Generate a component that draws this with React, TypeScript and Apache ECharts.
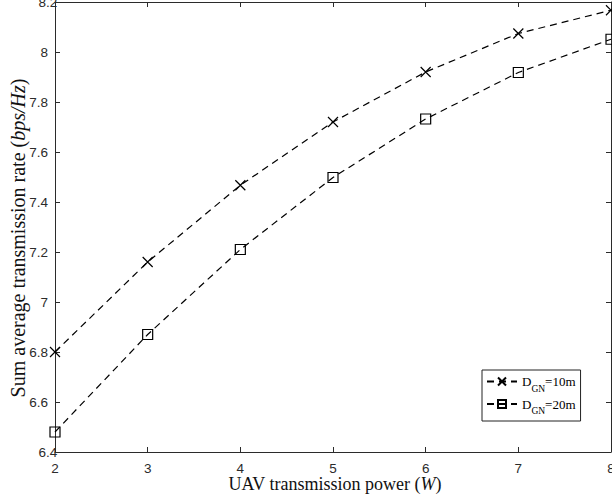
import React, { useEffect, useRef } from "react";
import * as echarts from "echarts";

const powerW = [2, 3, 4, 5, 6, 7, 8];
const rate10m = [6.8, 7.16, 7.467, 7.72, 7.92, 8.074, 8.167];
const rate20m = [6.48, 6.87, 7.21, 7.498, 7.732, 7.918, 8.051];
const seriesNames = ["D10", "D20"];
const legendLabels = ["10m", "20m"];
const xTitle = "UAV transmission power (";
const xUnit = "W";
const yTitle = "Sum average transmission rate (";
const yUnit = "bps/Hz";

const axisColor = "#2b2b2b";
const serif = "'Liberation Serif', 'Times New Roman', serif";
const sans = "'Liberation Sans', Arial, sans-serif";

export default function App() {
  const ref = useRef<HTMLDivElement>(null);
  useEffect(() => {
    if (!ref.current) return;
    const chart = echarts.init(ref.current, undefined, { renderer: "svg" });
    const mk = (vals: number[]) => powerW.map((x, i) => [x, vals[i]]);
    const commonAxis = {
      axisLine: { show: true, onZero: false, lineStyle: { color: axisColor, width: 1 } },
      axisTick: { show: true, inside: true, length: 5, lineStyle: { color: axisColor } },
      splitLine: { show: false },
    };
    chart.setOption({
      animation: false,
      backgroundColor: "#fff",
      grid: {
        left: 55, right: 1, top: 2, bottom: 52,
        containLabel: false, outerBoundsMode: "none",
      },
      xAxis: [
        {
          type: "value", min: 2, max: 8, interval: 1, position: "bottom",
          ...commonAxis,
          axisLabel: {
            color: axisColor, fontFamily: sans, fontSize: 13.5, margin: 9,
            alignMinLabel: "center", alignMaxLabel: "center",
          },
        },
        {
          type: "value", min: 2, max: 8, interval: 1, position: "top",
          ...commonAxis,
          axisLabel: { show: false },
        },
      ],
      yAxis: [
        {
          type: "value", min: 6.4, max: 8.2, interval: 0.2, position: "left",
          ...commonAxis,
          axisLabel: {
            color: axisColor, fontFamily: sans, fontSize: 13.5, margin: 7,
            alignMinLabel: "center", alignMaxLabel: "center",
            formatter: (v: number) => String(Math.round(v * 10) / 10),
          },
        },
        {
          type: "value", min: 6.4, max: 8.2, interval: 0.2, position: "right",
          ...commonAxis,
          axisLabel: { show: false },
        },
      ],
      legend: {
        left: 482, top: 370, orient: "vertical",
        backgroundColor: "#fff",
        borderColor: "#222", borderWidth: 1,
        padding: [5, 5, 5, 4], itemGap: 4,
        itemWidth: 30, itemHeight: 10,
        data: seriesNames,
        formatter: (name: string) => {
          const i = seriesNames.indexOf(name);
          return "{t|D}{s|GN}{t|=" + legendLabels[i] + "}";
        },
        textStyle: {
          padding: [0, 0, 0, 0],
          rich: {
            t: { fontFamily: serif, fontSize: 13, color: "#000", lineHeight: 18, verticalAlign: "middle" },
            s: { fontFamily: serif, fontSize: 9.5, color: "#000", lineHeight: 18, verticalAlign: "bottom", padding: [0, 0, -3, 0] },
          },
        },
      },
      series: [
        {
          name: seriesNames[0], type: "line", data: mk(rate10m), clip: false,
          symbol: "path://M0,0L10,10M10,0L0,10", symbolSize: 10,
          itemStyle: { color: "transparent", borderColor: "#000", borderWidth: 1.2 },
          lineStyle: { color: "#000", width: 1.2, type: [7, 5] },
        },
        {
          name: seriesNames[1], type: "line", data: mk(rate20m), clip: false,
          symbol: "rect", symbolSize: 10,
          itemStyle: { color: "transparent", borderColor: "#000", borderWidth: 1.2 },
          lineStyle: { color: "#000", width: 1.2, type: [7, 5] },
        },
      ],
      graphic: [
        {
          type: "text", x: 335, y: 484,
          style: {
            text: "{a|" + xTitle + "}{b|" + xUnit + "}{a|)}",
            align: "center", verticalAlign: "middle",
            rich: {
              a: { fontFamily: serif, fontSize: 18, fill: "#111" },
              b: { fontFamily: serif, fontSize: 18, fontStyle: "italic", fill: "#111" },
            },
          },
        },
        {
          type: "text", x: 18, y: 238, rotation: Math.PI / 2,
          style: {
            text: "{a|" + yTitle + "}{b|" + yUnit + "}{a|)}",
            align: "center", verticalAlign: "middle",
            rich: {
              a: { fontFamily: serif, fontSize: 20, fill: "#111" },
              b: { fontFamily: serif, fontSize: 20, fontStyle: "italic", fill: "#111" },
            },
          },
        },
      ],
    });
    return () => chart.dispose();
  }, []);
  return (
    <div
      ref={ref}
      style={{ position: "fixed", left: 0, top: 0, width: 612, height: 504 }}
    />
  );
}
